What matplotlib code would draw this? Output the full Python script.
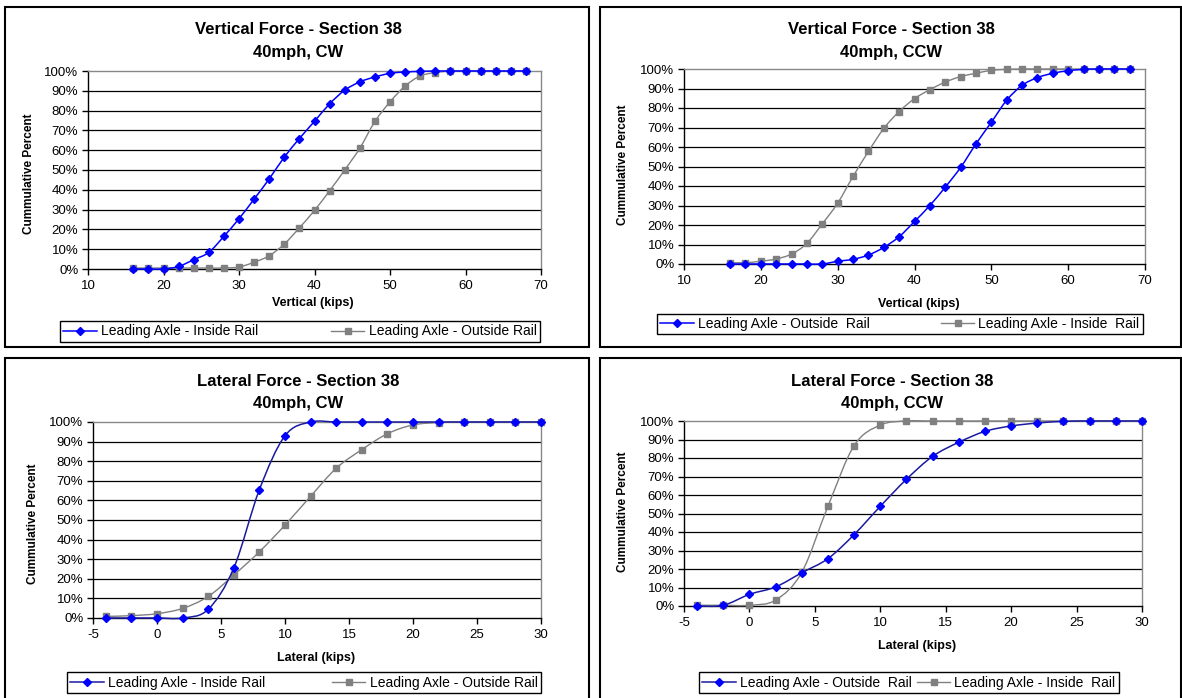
import numpy as np
import matplotlib
matplotlib.use('Agg')
import matplotlib.pyplot as plt
from matplotlib.path import Path
from matplotlib.patches import PathPatch, Rectangle
from matplotlib.lines import Line2D
from matplotlib.ticker import PercentFormatter

plt.rcParams['font.family'] = ['Liberation Sans', 'DejaVu Sans']
plt.rcParams['axes.unicode_minus'] = False

# ---- data (cumulative percent) ----
vert_x = list(range(16, 70, 2))
vert_cw_inside = [0, 0, 0, 1.3, 4.7, 8.4, 16.5, 25.4, 35.3, 45.5, 56.5, 65.9, 74.6, 83.4,
                  90.3, 94.5, 97.0, 98.8, 99.5, 99.8, 100, 100, 100, 100, 100, 100, 100]
vert_cw_outside = [0.5, 0.5, 0.5, 0.5, 0.5, 0.5, 0.5, 1.0, 3.4, 6.7, 12.6, 20.8, 29.6, 39.5,
                   50.0, 61.0, 74.5, 84.4, 92.4, 97.5, 99.2, 100, 100, 100, 100, 100, 100]
vert_ccw_outside = [0, 0, 0, 0, 0, 0, 0, 1.4, 2.4, 4.6, 8.5, 14.0, 21.8, 30.0,
                    39.4, 49.5, 61.6, 72.7, 84.0, 91.6, 95.6, 97.8, 99.1, 99.8, 100, 100, 100]
vert_ccw_inside = [0.7, 0.7, 1.4, 2.6, 5.1, 10.6, 20.6, 31.2, 44.9, 57.7, 69.5, 78.2, 84.8, 89.4,
                   93.3, 96.1, 97.8, 99.3, 99.8, 100, 100, 100, 100, 100, 100, 100, 100]

lat_x = list(range(-4, 32, 2))
lat_cw_inside = [0, 0, 0, 0, 4.4, 25.5, 65.5, 93.0, 100, 100, 100, 100, 100, 100, 100, 100, 100, 100]
lat_cw_outside = [0.8, 1.2, 2.2, 4.9, 11.0, 21.9, 33.8, 47.4, 62.1, 76.4, 85.9, 94.0, 98.5, 99.7,
                  100, 100, 100, 100]
lat_ccw_outside = [0, 0.4, 6.3, 10.3, 18.0, 25.6, 38.6, 53.9, 68.5, 80.9, 88.5, 94.4, 97.3, 98.9,
                   99.8, 100, 100, 100]
lat_ccw_inside = [0.4, 0.4, 0.4, 3.2, 18.2, 53.9, 86.7, 97.8, 100, 100, 100, 100, 100, 100,
                  100, 100, 100, 100]

W, H = 1182, 698
fig = plt.figure(figsize=(W / 100, H / 100), dpi=100)


def fx(x):
    return x / W


def fy(y):
    return 1 - y / H


def smooth_path(xs, ys):
    # Excel-style smoothed line: cubic bezier through the points
    p = np.column_stack([xs, ys]).astype(float)
    verts = [p[0]]
    codes = [Path.MOVETO]
    n = len(p)
    for i in range(n - 1):
        p0 = p[i - 1] if i > 0 else p[i]
        p3 = p[i + 2] if i + 2 < n else p[i + 1]
        c1 = p[i] + (p[i + 1] - p0) / 6
        c2 = p[i + 1] - (p3 - p[i]) / 6
        verts += [c1, c2, p[i + 1]]
        codes += [Path.CURVE4] * 3
    return Path(verts, codes)


def draw_panel(box, axrect, xs, s1, s2, labels, xlim, xstep, xlabel, title, tl, xl, yl,
               leg, blue_line):
    # outer frame
    x0, y0, x1, y1 = box
    fig.add_artist(Rectangle((fx(x0), fy(y1)), fx(x1 - x0), (y1 - y0) / H,
                             transform=fig.transFigure, fill=False, ec='black', lw=1.5))
    l, t, r, b = axrect
    ax = fig.add_axes([fx(l), fy(b), fx(r - l), (b - t) / H])
    ax.set_xlim(*xlim)
    ax.set_ylim(0, 100)
    ax.set_xticks(np.arange(xlim[0], xlim[1] + 0.1, xstep))
    ax.set_yticks(np.arange(0, 101, 10))
    ax.yaxis.set_major_formatter(PercentFormatter(decimals=0))
    for yv in range(10, 100, 10):
        ax.axhline(yv, color='black', lw=0.9, zorder=1)
    ax.spines['left'].set_color('black')
    ax.spines['bottom'].set_color('black')
    ax.spines['top'].set_color('#888888')
    ax.spines['right'].set_color('#888888')
    for s in ax.spines.values():
        s.set_linewidth(1.0)
    ax.tick_params(axis='both', direction='out', length=4, width=1, labelsize=9.5, colors='black')
    ax.tick_params(axis='x', pad=4)
    ax.tick_params(axis='y', pad=3)

    # gray series (square), blue series (diamond)
    ax.add_patch(PathPatch(smooth_path(xs, s2), fill=False, ec='#808080', lw=1.0, zorder=3,
                           clip_on=False))
    ax.plot(xs, s2, ls='none', marker='s', ms=5, mfc='#808080', mec='#808080', zorder=4,
            clip_on=False)
    ax.add_patch(PathPatch(smooth_path(xs, s1), fill=False, ec=blue_line, lw=1.1, zorder=5,
                           clip_on=False))
    ax.plot(xs, s1, ls='none', marker='D', ms=4.5, mfc='#0000FF', mec='#0000FF', zorder=6,
            clip_on=False)

    fig.text(fx(tl[0]), fy(tl[1]), title[0], ha='center', va='center', fontsize=12,
             fontweight='bold')
    fig.text(fx(tl[0]), fy(tl[2]), title[1], ha='center', va='center', fontsize=12,
             fontweight='bold')
    fig.text(fx(xl[0]), fy(xl[1]), xlabel, ha='center', va='center', fontsize=9,
             fontweight='bold')
    fig.text(fx(yl[0]), fy(yl[1]), 'Cummulative Percent', ha='center', va='center',
             fontsize=8.5, fontweight='bold', rotation=90)

    h1 = Line2D([], [], color=blue_line, lw=1.1, marker='D', ms=4.5, mfc='#0000FF',
                mec='#0000FF')
    h2 = Line2D([], [], color='#808080', lw=1.0, marker='s', ms=5, mfc='#808080',
                mec='#808080')
    lx0, ly0, lx1, ly1 = leg
    fig.legend([h1, h2], labels, loc='center', ncol=2, mode='expand',
               bbox_to_anchor=(fx(lx0), fy(ly1), fx(lx1 - lx0), (ly1 - ly0) / H),
               bbox_transform=fig.transFigure, fontsize=10, frameon=True, fancybox=False,
               edgecolor='black', framealpha=1, handlelength=2.4, handletextpad=0.3,
               borderpad=0.25, borderaxespad=0, columnspacing=1.0)
    return ax


draw_panel((5, 7, 589, 347), (88, 71, 541, 269), vert_x, vert_cw_inside, vert_cw_outside,
           ['Leading Axle - Inside Rail', 'Leading Axle - Outside Rail'], (10, 70), 10,
           'Vertical (kips)', ('Vertical Force - Section 38', '40mph, CW'),
           (298, 29, 52), (313, 303), (29, 174), (60, 319, 540, 344), '#0000FF')

draw_panel((600, 7, 1181, 347), (684, 69, 1145, 264), vert_x, vert_ccw_outside, vert_ccw_inside,
           ['Leading Axle - Outside  Rail', 'Leading Axle - Inside  Rail'], (10, 70), 10,
           'Vertical (kips)', ('Vertical Force - Section 38', '40mph, CCW'),
           (891, 30, 53), (919, 304), (623, 165), (657, 313, 1143, 335), '#0000FF')

draw_panel((5, 358, 589, 702), (93, 422, 541, 618), lat_x, lat_cw_inside, lat_cw_outside,
           ['Leading Axle - Inside Rail', 'Leading Axle - Outside Rail'], (-5, 30), 5,
           'Lateral (kips)', ('Lateral Force - Section 38', '40mph, CW'),
           (298, 381, 404), (316, 658), (33, 524), (67, 670, 541, 695), '#1A1AA0')

draw_panel((600, 358, 1181, 702), (684, 421, 1142, 606), lat_x, lat_ccw_outside, lat_ccw_inside,
           ['Leading Axle - Outside  Rail', 'Leading Axle - Inside  Rail'], (-5, 30), 5,
           'Lateral (kips)', ('Lateral Force - Section 38', '40mph, CCW'),
           (892, 381, 404), (917, 646), (623, 512), (699, 670, 1119, 695), '#1A1AA0')

fig.savefig('out.png', dpi=100)
